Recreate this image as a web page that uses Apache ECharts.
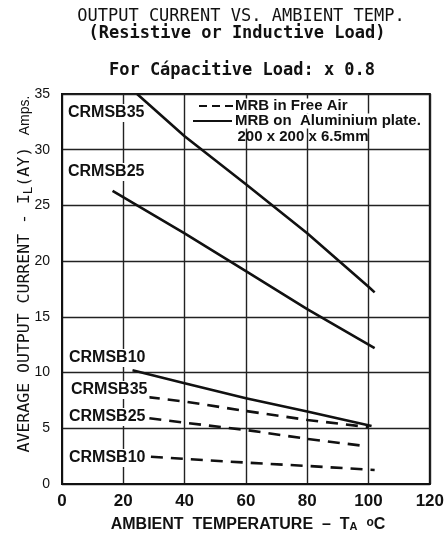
<!DOCTYPE html>
<html>
<head>
<meta charset="utf-8">
<script src="https://cdn.jsdelivr.net/npm/echarts@6/dist/echarts.min.js"></script>
<style>html,body{margin:0;padding:0;background:#fff}#c{width:447px;height:541px}</style>
</head>
<body>
<div id="c"></div>
<script>
// ---- data ----
const xTicks = [0, 20, 40, 60, 80, 100, 120];
const yTicks = [0, 5, 10, 15, 20, 25, 30, 35];

const plateName = 'MRB on  Aluminium plate.';
const plateNote = '200 x 200 x 6.5mm';
const airName = 'MRB in Free Air';

// MRB on aluminium plate (solid)
const plate35T = [24.5, 40, 60, 80, 100, 102];
const plate35I = [35, 31.2, 26.9, 22.5, 17.7, 17.2];
const plate25T = [16.5, 40, 60, 80, 102];
const plate25I = [26.3, 22.5, 19.1, 15.7, 12.2];
const plate10T = [23, 40, 60, 80, 101];
const plate10I = [10.2, 9.05, 7.7, 6.5, 5.2];

// MRB in free air (dashed)
const air35T = [28, 40, 60, 80, 100];
const air35I = [7.8, 7.4, 6.55, 5.75, 5.1];
const air25T = [28.5, 40, 60, 80, 99];
const air25I = [5.9, 5.5, 4.85, 4.05, 3.4];
const air10T = [29, 40, 60, 80, 102];
const air10I = [2.45, 2.25, 1.92, 1.62, 1.26];

const labelsPlate = ['CRMSB35', 'CRMSB25', 'CRMSB10'];
const labelsAir = ['CRMSB35', 'CRMSB25', 'CRMSB10'];

function pairs(t, v) { return t.map((x, i) => [x, v[i]]); }

const ink = '#111';
function solid(t, v) {
  return { type: 'line', name: plateName, data: pairs(t, v), symbol: 'none', silent: true,
    lineStyle: { color: ink, width: 2.6, type: 'solid' }, itemStyle: { color: ink }, z: 5 };
}
function dashed(t, v) {
  return { type: 'line', name: airName, data: pairs(t, v), symbol: 'none', silent: true,
    lineStyle: { color: ink, width: 2.6, type: [12, 8] }, itemStyle: { color: ink }, z: 5 };
}

const chart = echarts.init(document.getElementById('c'), null, { renderer: 'canvas' });

const sans = '"Liberation Sans", Arial, sans-serif';
const labelFont = 'bold 16px ' + sans;
const legendFont = 'bold 15px ' + sans;
function lbl(text, x, y) {
  return { type: 'text', x: x, y: y, z: 50,
    style: { text: text, font: labelFont, fill: ink, align: 'left', verticalAlign: 'middle',
      backgroundColor: '#fff', padding: [1, 2] } };
}
function legText(text, x, y) {
  return { type: 'text', x: x, y: y, z: 50,
    style: { text: text, font: legendFont, fill: ink, align: 'left', verticalAlign: 'middle', backgroundColor: '#fff' } };
}

chart.setOption({
  backgroundColor: '#fff',
  animation: false,
  grid: { left: 62, right: 15, top: 94, bottom: 57, show: true, borderColor: ink, borderWidth: 2, backgroundColor: '#fff' },
  xAxis: {
    type: 'value', min: 0, max: 120, interval: 20,
    axisLine: { show: true, lineStyle: { color: ink, width: 2 } },
    axisTick: { show: false },
    splitLine: { show: true, lineStyle: { color: '#222', width: 1.4 } },
    axisLabel: { color: ink, margin: 9, fontFamily: sans, fontWeight: 'bold', fontSize: 17,
      formatter: v => xTicks.includes(v) ? String(v) : '' }
  },
  yAxis: {
    type: 'value', min: 0, max: 35, interval: 5,
    axisLine: { show: true, lineStyle: { color: ink, width: 2 } },
    axisTick: { show: false },
    splitLine: { show: true, lineStyle: { color: '#222', width: 1.4 } },
    axisLabel: { color: ink, margin: 12, fontFamily: sans, fontSize: 14,
      formatter: v => yTicks.includes(v) ? String(v) : '' }
  },
  series: [
    solid(plate35T, plate35I), solid(plate25T, plate25I), solid(plate10T, plate10I),
    dashed(air35T, air35I), dashed(air25T, air25I), dashed(air10T, air10I)
  ],
  graphic: [
    { type: 'text', x: 241, y: 17, style: { text: 'OUTPUT CURRENT VS. AMBIENT TEMP.', font: '17px "DejaVu Sans Mono", monospace', fill: ink, align: 'center', verticalAlign: 'middle' } },
    { type: 'text', x: 237, y: 34, style: { text: '(Resistive or Inductive Load)', font: 'bold 17px "DejaVu Sans Mono", monospace', fill: ink, align: 'center', verticalAlign: 'middle' } },
    { type: 'text', x: 242, y: 71, style: { text: 'For Cápacitive Load: x 0.8', font: 'bold 17px "DejaVu Sans Mono", monospace', fill: ink, align: 'center', verticalAlign: 'middle' } },
    // legend
    { type: 'line', z: 51, shape: { x1: 199, y1: 106, x2: 233, y2: 106 }, style: { stroke: ink, lineWidth: 2, lineDash: [8, 5] } },
    legText(airName, 235, 106),
    { type: 'line', z: 51, shape: { x1: 193, y1: 121, x2: 232, y2: 121 }, style: { stroke: ink, lineWidth: 2 } },
    legText(plateName, 235, 121),
    { type: 'text', x: 303, y: 137, z: 50, style: { text: plateNote, font: legendFont, fill: ink, align: 'center', verticalAlign: 'middle' } },
    lbl(labelsPlate[0], 66, 113),
    lbl(labelsPlate[1], 66, 172),
    lbl(labelsPlate[2], 67, 358),
    lbl(labelsAir[0], 69, 390),
    lbl(labelsAir[1], 67, 417),
    lbl(labelsAir[2], 67, 458),
    { type: 'text', x: 25, y: 274, rotation: Math.PI / 2,
      style: { text: '{m|AVERAGE OUTPUT CURRENT - I}{s|L}{m|(AY)}{a|   Amps.}', align: 'center', verticalAlign: 'middle', fill: ink,
        rich: {
          m: { fontFamily: '"DejaVu Sans Mono", monospace', fontSize: 16.5, fill: ink, lineHeight: 20, verticalAlign: 'middle' },
          s: { fontFamily: '"DejaVu Sans Mono", monospace', fontSize: 12.5, fill: ink, lineHeight: 20, verticalAlign: 'bottom' },
          a: { fontFamily: sans, fontSize: 14, fill: ink, lineHeight: 20, verticalAlign: 'middle' }
        } } },
    { type: 'text', x: 248, y: 525,
      style: { text: '{b|AMBIENT  TEMPERATURE  –  T}{s|A}{b|  }{o|o}{b|C}', align: 'center', verticalAlign: 'middle', fill: ink,
        rich: {
          b: { fontFamily: sans, fontWeight: 'bold', fontSize: 16, fill: ink, lineHeight: 20, verticalAlign: 'middle' },
          s: { fontFamily: sans, fontWeight: 'bold', fontSize: 11, fill: ink, lineHeight: 20, verticalAlign: 'bottom', padding: [0,0,3,0] },
          o: { fontFamily: sans, fontWeight: 'bold', fontSize: 12, fill: ink, lineHeight: 20, verticalAlign: 'top', padding: [2,0,0,0] }
        } } }
  ]
});
</script>
</body>
</html>
